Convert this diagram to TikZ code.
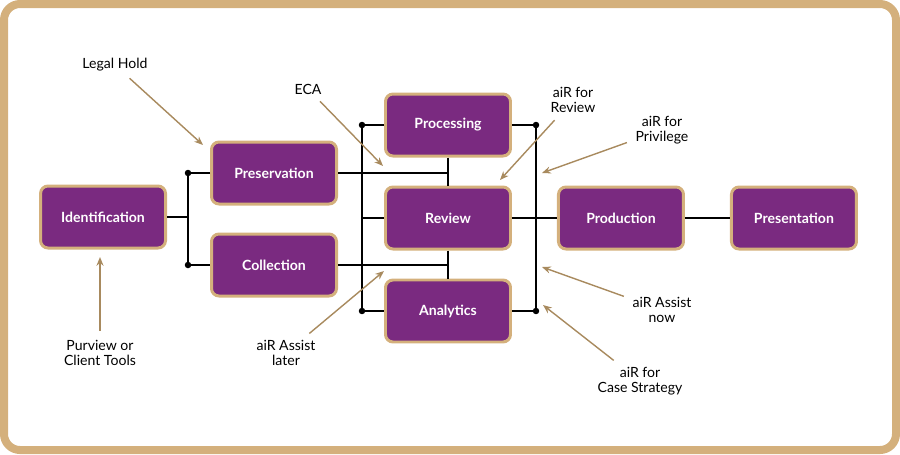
\documentclass[tikz,border=0pt]{standalone}
\usepackage{fontspec}
\setmainfont{Lato}
\usepackage{xcolor}
\usetikzlibrary{positioning, arrows.meta}

\definecolor{stagepurple}{HTML}{7A2A80}
\definecolor{stagetan}{HTML}{D4B07C}
\definecolor{notebrown}{HTML}{A88A5E}

\begin{document}
\begin{tikzpicture}[
    stage/.style={rectangle, rounded corners=0.15cm, draw=stagetan, line width=1.7pt, fill=stagepurple,
        minimum width=2.5cm, minimum height=1.24cm, align=center, text=white,
        font=\bfseries\fontsize{8}{9}\selectfont},
    note/.style={align=center, inner sep=1pt, font=\fontsize{8}{8.8}\selectfont},
    notearrow/.style={draw=notebrown, line width=0.8pt, -{Stealth[length=5pt, width=4pt]}, shorten <=4pt},
    bus/.style={draw=black, line width=1.1pt},
    joint/.style={fill=black, radius=0.065cm}
]

    \useasboundingbox (0,0) rectangle (18,-9.08);
    \draw[stagetan, line width=0.16cm, rounded corners=0.32cm] (0.08,-0.08) rectangle (17.92,-9.00);

    % Stages
    \node[stage] (Review) at (8.96,-4.36) {Review};
    \node[stage] (Processing)     [above=0.56cm of Review]     {Processing};
    \node[stage] (Analytics)      [below=0.56cm of Review]     {Analytics};
    \node[stage] (Production)     [right=0.9cm of Review]      {Production};
    \node[stage] (Presentation)   [right=0.9cm of Production]  {Presentation};
    \node[stage] (Preservation)   [left=0.92cm of Review, yshift=0.9cm]   {Preservation};
    \node[stage] (Collection)     [left=0.92cm of Review, yshift=-0.94cm] {Collection};
    \node[stage] (Identification) [left=0.86cm of Preservation, yshift=-0.88cm] {Identification};

    % Bus joints
    \coordinate[left=0.44cm of Preservation.west] (PresJoint);
    \coordinate[left=0.44cm of Collection.west]   (CollJoint);
    \coordinate[left=0.44cm of Processing.west]   (ProcLeft);
    \coordinate[left=0.44cm of Analytics.west]    (AnaLeft);
    \coordinate[right=0.48cm of Processing.east]  (ProcRight);
    \coordinate[right=0.48cm of Analytics.east]   (AnaRight);

    % Connectors
    \draw[bus] (Identification.east) -- (Identification.east -| PresJoint);
    \draw[bus] (Preservation.west) -- (PresJoint) -- (CollJoint) -- (Collection.west);
    \draw[bus] (Preservation.east) -- (Preservation.east -| Review);
    \draw[bus] (Collection.east) -- (Collection.east -| Review);
    \draw[bus] (Processing.south) -- (Review.north);
    \draw[bus] (Review.south) -- (Analytics.north);
    \draw[bus] (Processing.west) -- (ProcLeft) -- (AnaLeft) -- (Analytics.west);
    \draw[bus] (Review.west) -- (Review.west -| ProcLeft);
    \draw[bus] (Processing.east) -- (ProcRight) -- (AnaRight) -- (Analytics.east);
    \draw[bus] (Review.east) -- (Production.west);
    \draw[bus] (Production.east) -- (Presentation.west);

    \foreach \j in {PresJoint, CollJoint, ProcLeft, AnaLeft, ProcRight, AnaRight}
        \fill[joint] (\j) circle;

    % Notes
    \node[note] (LegalHold) at (2.30,-1.30)  {Legal Hold};
    \node[note] (Eca)       at (6.16,-1.78)  {ECA};
    \node[note] (AirReview) at (11.46,-2.00) {aiR for\\Review};
    \node[note] (AirPriv)   at (13.24,-2.60) {aiR for\\Privilege};
    \node[note] (AirNow)    at (13.24,-6.20) {aiR Assist\\now};
    \node[note] (AirCase)   at (12.80,-7.62) {aiR for\\Case Strategy};
    \node[note] (Purview)   at (2.00,-7.06)  {Purview or\\Client Tools};
    \node[note] (AirLater)  at (5.72,-7.06)  {aiR Assist\\later};

    \coordinate (LegalHoldTip) at (4.06,-2.90);
    \coordinate (EcaTip)       at (7.66,-3.32);
    \coordinate (AirReviewTip) at (10.00,-3.60);
    \coordinate (AirPrivTip)   at (10.84,-3.46);
    \coordinate (AirNowTip)    at (10.84,-5.34);
    \coordinate (AirCaseTip)   at (10.86,-6.10);
    \coordinate (PurviewTip)   at (2.00,-5.14);
    \coordinate (AirLaterTip)  at (7.68,-5.42);

    \foreach \n in {LegalHold, Eca, AirReview, AirPriv, AirNow, AirCase, Purview, AirLater}
        \draw[notearrow] (\n) -- (\n Tip);

\end{tikzpicture}
\end{document}
